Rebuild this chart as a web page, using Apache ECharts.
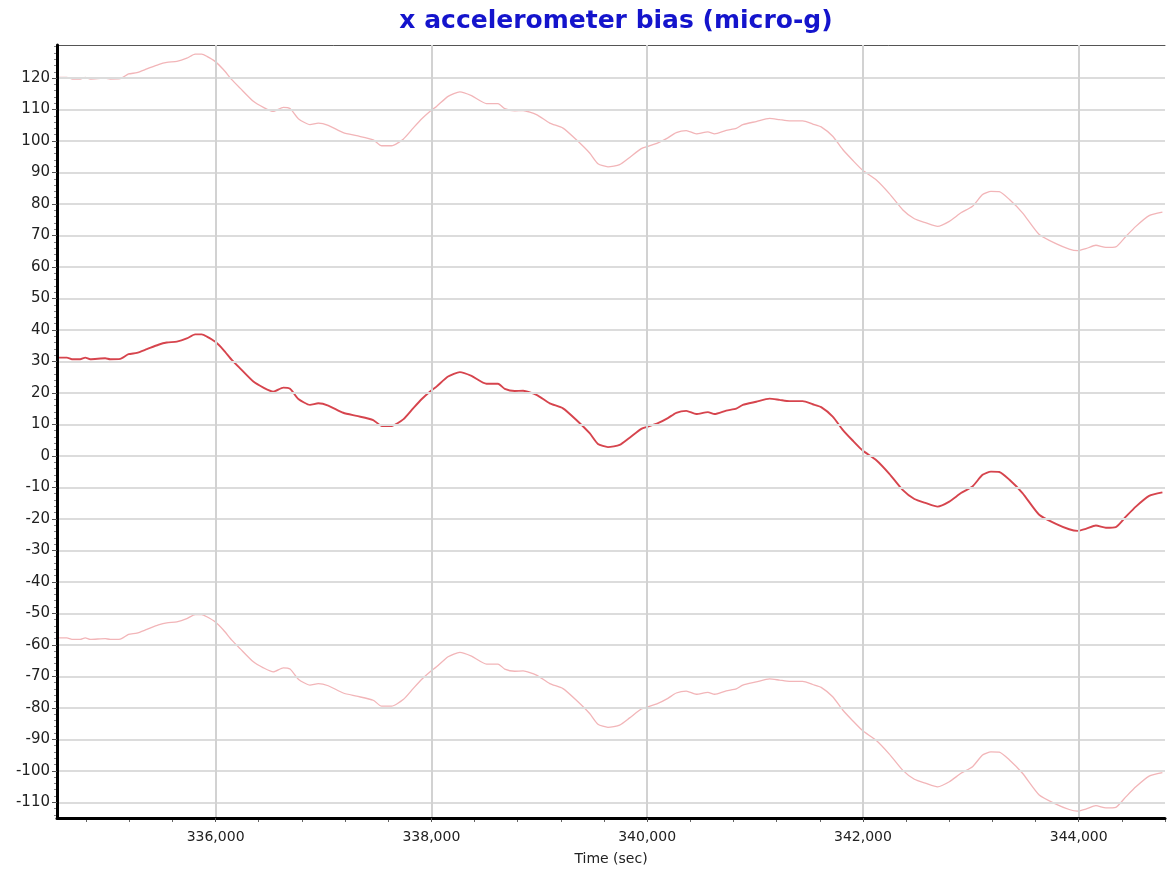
<!DOCTYPE html>
<html>
<head>
<meta charset="utf-8">
<script src="https://cdn.jsdelivr.net/npm/echarts@6/dist/echarts.min.js"></script>
<style>
html,body{margin:0;padding:0;background:#fff;}
#chart{width:1167px;height:871px;}
</style>
</head>
<body>
<div id="chart"></div>
<script>
// Time (sec)
var times = [334545,334622,334669,334745,334792,334838,334977,335023,335116,335193,
335270,335363,335470,335548,335641,335733,335810,335872,335919,335995,
336072,336150,336227,336350,336443,336535,336628,336690,336767,336875,
336952,337044,337183,337307,337461,337539,337631,337739,337831,337909,
337986,338048,338155,338264,338372,338511,338618,338680,338773,338850,
338974,339097,339220,339344,339467,339544,339637,339745,339838,339946,
340007,340100,340192,340270,340363,340455,340563,340625,340733,340826,
340887,341011,341134,341227,341319,341442,341535,341613,341720,341813,
341905,341998,342122,342245,342368,342477,342585,342692,342801,342909,
343016,343109,343187,343264,343356,343479,343634,343789,343912,343989,
344066,344159,344252,344344,344437,344530,344653,344776];

// bias estimate (micro-g)
var biasMid = [31.2,31.2,30.7,30.7,31.2,30.7,31.0,30.7,30.8,32.3,
32.7,33.9,35.3,36.0,36.3,37.3,38.6,38.6,37.9,36.3,
33.7,30.5,27.8,23.6,21.7,20.4,21.7,21.3,18.1,16.2,
16.7,16.0,13.7,12.7,11.4,9.5,9.5,11.6,15.1,18.0,
20.4,22.0,25.2,26.6,25.4,22.9,22.9,21.3,20.6,20.7,
19.4,16.7,15.1,11.4,7.2,3.8,2.8,3.5,5.8,8.6,
9.3,10.4,12.0,13.7,14.3,13.3,13.9,13.3,14.4,15.0,
16.2,17.2,18.2,17.8,17.4,17.4,16.4,15.5,12.5,8.3,
4.9,1.7,-1.3,-5.7,-10.8,-13.7,-15.0,-16.1,-14.5,-11.8,
-9.7,-6.0,-5.0,-5.1,-7.5,-11.8,-18.7,-21.6,-23.3,-23.8,
-23.2,-22.1,-22.8,-22.6,-19.3,-16.1,-12.7,-11.6];

// upper bound
var biasUpper = [120.2,120.2,119.7,119.7,120.2,119.7,120.0,119.7,119.8,121.3,
121.7,122.9,124.3,125.0,125.3,126.3,127.6,127.6,126.9,125.3,
122.7,119.5,116.8,112.6,110.7,109.4,110.7,110.3,107.1,105.2,
105.7,105.0,102.7,101.7,100.4,98.5,98.5,100.6,104.1,107.0,
109.4,111.0,114.2,115.6,114.4,111.9,111.9,110.3,109.6,109.7,
108.4,105.7,104.1,100.4,96.2,92.8,91.8,92.5,94.8,97.6,
98.3,99.4,101.0,102.7,103.3,102.3,102.9,102.3,103.4,104.0,
105.2,106.2,107.2,106.8,106.4,106.4,105.4,104.5,101.5,97.3,
93.9,90.7,87.7,83.3,78.2,75.3,74.0,72.9,74.5,77.2,
79.3,83.0,84.0,83.9,81.5,77.2,70.3,67.4,65.7,65.2,
65.8,66.9,66.2,66.4,69.7,72.9,76.3,77.4];

// lower bound
var biasLower = [-57.8,-57.8,-58.3,-58.3,-57.8,-58.3,-58.0,-58.3,-58.2,-56.7,
-56.3,-55.1,-53.7,-53.0,-52.7,-51.7,-50.4,-50.4,-51.1,-52.7,
-55.3,-58.5,-61.2,-65.4,-67.3,-68.6,-67.3,-67.7,-70.9,-72.8,
-72.3,-73.0,-75.3,-76.3,-77.6,-79.5,-79.5,-77.4,-73.9,-71.0,
-68.6,-67.0,-63.8,-62.4,-63.6,-66.1,-66.1,-67.7,-68.4,-68.3,
-69.6,-72.3,-73.9,-77.6,-81.8,-85.2,-86.2,-85.5,-83.2,-80.4,
-79.7,-78.6,-77.0,-75.3,-74.7,-75.7,-75.1,-75.7,-74.6,-74.0,
-72.8,-71.8,-70.8,-71.2,-71.6,-71.6,-72.6,-73.5,-76.5,-80.7,
-84.1,-87.3,-90.3,-94.7,-99.8,-102.7,-104.0,-105.1,-103.5,-100.8,
-98.7,-95.0,-94.0,-94.1,-96.5,-100.8,-107.7,-110.6,-112.3,-112.8,
-112.2,-111.1,-111.8,-111.6,-108.3,-105.1,-101.7,-100.6];

// tick values
var xLabelTicks = [336000,338000,340000,342000,344000];
var yLabelTicks = [-110,-100,-90,-80,-70,-60,-50,-40,-30,-20,-10,0,10,20,30,40,50,60,70,80,90,100,110,120];
var xMinorTicks = [];
for (var t = 334800; t <= 344800; t += 400) xMinorTicks.push(t);
var yMinorTicks = [];
for (var v = -114; v <= 130; v += 2) yMinorTicks.push(v);

var X_MIN = 334530, X_MAX = 344800, Y_MIN = -115, Y_MAX = 130.5;

function pairs(ys){ return times.map(function(t,i){ return [t, ys[i]]; }); }

var chart = echarts.init(document.getElementById('chart'), null, {renderer:'canvas'});
var font = 'Verdana, "DejaVu Sans", sans-serif';
var option = {
  animation: false,
  backgroundColor: '#ffffff',
  title: {
    text: 'x accelerometer bias (micro-g)',
    left: 611, top: 4, textAlign: 'center',
    textStyle: {color: '#1414cc', fontSize: 25, fontWeight: 'bold', fontFamily: font}
  },
  grid: {left: 57, right: 2, top: 45, bottom: 53, containLabel: false},
  xAxis: [{
    type: 'value', min: X_MIN, max: X_MAX, position: 'bottom',
    name: 'Time (sec)', nameLocation: 'middle', nameGap: 34,
    nameTextStyle: {color: '#222', fontSize: 14, fontFamily: font},
    axisLine: {show: true, onZero: false, lineStyle: {color: '#000', width: 3}},
    axisTick: {show: true, customValues: xLabelTicks, length: 4, lineStyle: {color: '#555', width: 1}},
    axisLabel: {customValues: xLabelTicks, color: '#222', fontSize: 14, fontFamily: font, margin: 12,
      formatter: function(v){ return v.toLocaleString('en-US'); }},
    splitLine: {show: true, lineStyle: {color: '#d2d2d2', width: 2}},
    z: 5
  }, {
    type: 'value', min: X_MIN, max: X_MAX, position: 'bottom', offset: 0,
    axisLine: {show: false, onZero: false},
    axisTick: {show: true, customValues: xMinorTicks, length: 4, lineStyle: {color: '#666', width: 1}},
    axisLabel: {show: false}, splitLine: {show: false}
  }, {
    type: 'value', min: X_MIN, max: X_MAX, position: 'top', offset: 0,
    axisLine: {show: true, onZero: false, lineStyle: {color: '#555', width: 1}},
    axisTick: {show: false}, axisLabel: {show: false}, splitLine: {show: false}
  }],
  yAxis: [{
    type: 'value', min: Y_MIN, max: Y_MAX, position: 'left',
    axisLine: {show: true, onZero: false, lineStyle: {color: '#000', width: 3}},
    axisTick: {show: true, customValues: yLabelTicks, length: 5, lineStyle: {color: '#555', width: 1}},
    axisLabel: {customValues: yLabelTicks, color: '#222', fontSize: 15, fontFamily: font, margin: 7},
    splitLine: {show: true, lineStyle: {color: '#dcdcdc', width: 2}},
    z: 5
  }, {
    type: 'value', min: Y_MIN, max: Y_MAX, position: 'left', offset: 0,
    axisLine: {show: false, onZero: false},
    axisTick: {show: true, customValues: yMinorTicks, length: 3, lineStyle: {color: '#888', width: 1}},
    axisLabel: {show: false}, splitLine: {show: false}
  }],
  series: [{
    name: 'upper', type: 'line', data: pairs(biasUpper), showSymbol: false, smooth: 0.2,
    lineStyle: {color: '#f2b5b8', width: 1.3}, z: 3
  }, {
    name: 'lower', type: 'line', data: pairs(biasLower), showSymbol: false, smooth: 0.2,
    lineStyle: {color: '#f2b5b8', width: 1.3}, z: 3
  }, {
    name: 'bias', type: 'line', data: pairs(biasMid), showSymbol: false, smooth: 0.2,
    lineStyle: {color: '#d6444d', width: 1.9}, z: 4
  }]
};
chart.setOption(option);
</script>
</body>
</html>
